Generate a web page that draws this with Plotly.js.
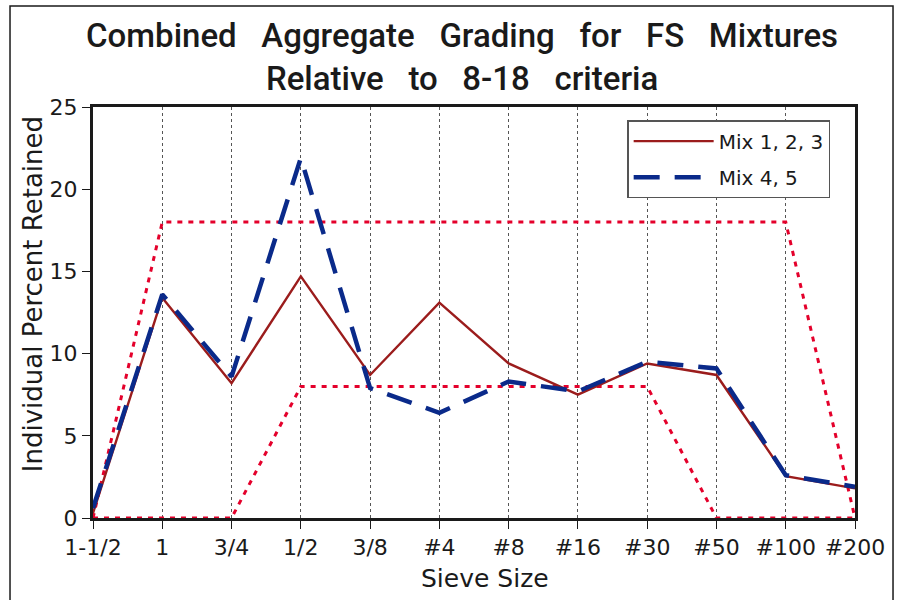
<!DOCTYPE html>
<html><head><meta charset="utf-8">
<script src="https://cdn.plot.ly/plotly-3.0.1.min.js"></script>
<style>html,body{margin:0;padding:0;background:#fff}</style>
</head><body>
<div id="chart" style="width:899px;height:600px"></div>
<script>
const sieves = ["1-1/2","1","3/4","1/2","3/8","#4","#8","#16","#30","#50","#100","#200"];
const mix123 = [0.3,13.4,8.2,14.7,8.7,13.1,9.4,7.5,9.4,8.7,2.55,1.8];
const mix45 = [0.6,13.6,8.6,21.9,7.9,6.4,8.3,7.7,9.5,9.1,2.6,1.9];
const upperLimit = [0,18,18,18,18,18,18,18,18,18,18,0];
const lowerLimit = [0,0,0,8,8,8,8,8,8,0,0,0];

const sp = "\u00A0\u00A0 ";
const FONT = "DejaVu Sans, Noto Sans, sans-serif";
const traces = [
  {x: sieves, y: upperLimit, type:"scatter", mode:"lines", showlegend:false,
   line:{color:"#e4002b", width:3, dash:"5px,6px"}, hoverinfo:"skip"},
  {x: sieves, y: lowerLimit, type:"scatter", mode:"lines", showlegend:false,
   line:{color:"#e4002b", width:3, dash:"5px,6px"}, hoverinfo:"skip"},
  {x: sieves, y: mix123, type:"scatter", mode:"lines", name:"Mix 1, 2, 3", legendgroup:"a",
   line:{color:"#9b1c1c", width:2.4}},
  {x: sieves, y: mix45, type:"scatter", mode:"lines", name:"Mix 4, 5", legendgroup:"b",
   line:{color:"#0a2a8a", width:4.5, dash:"26px,15px"}}
];

const layout = {
  width:899, height:600,
  margin:{l:93, r:44, t:107, b:82},
  paper_bgcolor:"#fff", plot_bgcolor:"#fff",
  font:{family:FONT, color:"#1a1a1a", size:20},
  title:{text:"Combined"+sp+"Aggregate"+sp+"Grading"+sp+"for"+sp+"FS"+sp+"Mixtures<br>Relative"+sp+"to"+sp+"8-18"+sp+"criteria",
    font:{size:33, color:"#1a1a1a", family:"Roboto, Noto Sans, sans-serif", weight:500},
    x:0.514, xanchor:"center", y:0.921, yanchor:"middle"},
  xaxis:{
    type:"category", range:[0,11],
    showgrid:true, gridcolor:"#555", griddash:"dot", gridwidth:1,
    showline:true, linecolor:"#1a1a1a", linewidth:3, mirror:true,
    ticks:"outside", ticklen:8, tickcolor:"#1a1a1a", tickwidth:1,
    tickfont:{size:22},
    zeroline:false
  },
  yaxis:{
    range:[0,25], dtick:5,
    showgrid:false, zeroline:false,
    showline:true, linecolor:"#1a1a1a", linewidth:3, mirror:true,
    ticks:"outside", ticklen:8, tickcolor:"#1a1a1a", tickwidth:1,
    tickfont:{size:22}
  },
  annotations:[
    {text:"Sieve Size", xref:"paper", yref:"paper", x:0.514, y:-0.146,
     xanchor:"center", yanchor:"middle", showarrow:false, font:{size:25}},
    {text:"Individual Percent Retained", xref:"paper", yref:"paper", x:-0.0785, y:0.545,
     xanchor:"center", yanchor:"middle", showarrow:false, textangle:-90, font:{size:26}}
  ],
  legend:{
    x:0.701, y:0.968, xanchor:"left", yanchor:"top",
    bgcolor:"#fff", bordercolor:"#555", borderwidth:1.5,
    font:{size:20}, tracegroupgap:7, itemwidth:80
  },
  shapes:[
    {type:"rect", xref:"paper", yref:"paper", x0:-0.1089, x1:1.0499, y0:-0.22, y1:1.2457,
     line:{color:"#1a1a1a", width:1.5}, fillcolor:"rgba(0,0,0,0)", layer:"below"}
  ]
};
Plotly.newPlot("chart", traces, layout, {displayModeBar:false, staticPlot:true});
</script>
</body></html>
